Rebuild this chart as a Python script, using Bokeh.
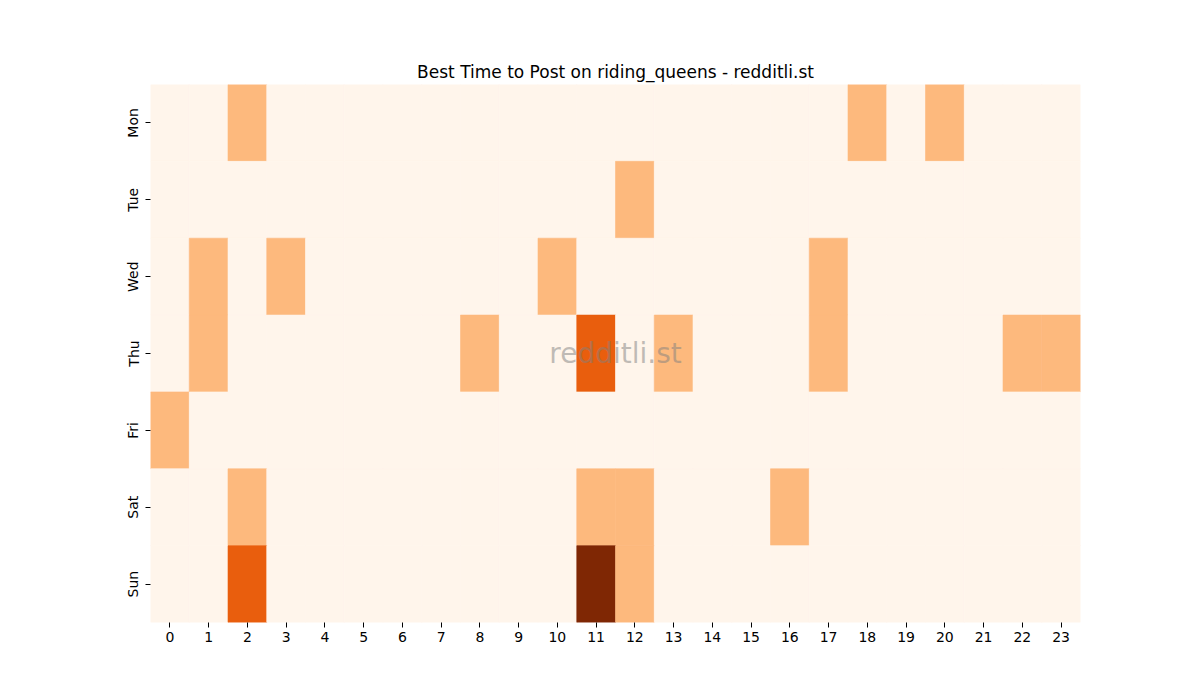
import numpy as np
from bokeh.plotting import figure
from bokeh.models import FixedTicker, ColumnDataSource
from bokeh.core.properties import value
from bokeh.embed import file_html
from bokeh.resources import INLINE

days = ["Mon", "Tue", "Wed", "Thu", "Fri", "Sat", "Sun"]
hours = list(range(24))

# posts score per (day, hour)
mon = [0, 0, 1, 0, 0, 0, 0, 0, 0, 0, 0, 0, 0, 0, 0, 0, 0, 0, 1, 0, 1, 0, 0, 0]
tue = [0, 0, 0, 0, 0, 0, 0, 0, 0, 0, 0, 0, 1, 0, 0, 0, 0, 0, 0, 0, 0, 0, 0, 0]
wed = [0, 1, 0, 1, 0, 0, 0, 0, 0, 0, 1, 0, 0, 0, 0, 0, 0, 1, 0, 0, 0, 0, 0, 0]
thu = [0, 1, 0, 0, 0, 0, 0, 0, 1, 0, 0, 2, 0, 1, 0, 0, 0, 1, 0, 0, 0, 0, 1, 1]
fri = [1, 0, 0, 0, 0, 0, 0, 0, 0, 0, 0, 0, 0, 0, 0, 0, 0, 0, 0, 0, 0, 0, 0, 0]
sat = [0, 0, 1, 0, 0, 0, 0, 0, 0, 0, 0, 1, 1, 0, 0, 0, 1, 0, 0, 0, 0, 0, 0, 0]
sun = [0, 0, 2, 0, 0, 0, 0, 0, 0, 0, 0, 3, 1, 0, 0, 0, 0, 0, 0, 0, 0, 0, 0, 0]

palette = ["#fff5eb", "#fdb97d", "#e95e0d", "#7f2704"]

grid = np.array([mon, tue, wed, thu, fri, sat, sun])
xs, ys, cs = [], [], []
for d in range(len(days)):
    for h in hours:
        xs.append(h + 0.5)
        ys.append(d + 0.5)
        cs.append(palette[grid[d, h]])
src = ColumnDataSource(data=dict(x=xs, y=ys, color=cs))

p = figure(width=1184, height=684, x_range=(0, 24), y_range=(7, 0),
           output_backend="svg", toolbar_location=None,
           title="Best Time to Post on riding_queens - redditli.st",
           min_border_left=150, min_border_right=104,
           min_border_top=84, min_border_bottom=62)
p.rect('x', 'y', 1, 1, source=src, fill_color='color', line_color='color',
       line_width=0.6)

p.text(x=[12], y=[3.5], text=["redditli.st"], text_align="center",
       text_baseline="middle", text_font=value("DejaVu Sans"),
       text_font_size="28px", text_color="gray", text_alpha=0.5)

p.title.align = "center"
p.title.text_font = "DejaVu Sans"
p.title.text_font_size = "17px"
p.title.text_font_style = "normal"
p.title.text_color = "black"
p.title.offset = 0
p.title.standoff = 5

p.xaxis.ticker = FixedTicker(ticks=[h + 0.5 for h in hours])
p.xaxis.major_label_overrides = {h + 0.5: str(h) for h in hours}
p.yaxis.ticker = FixedTicker(ticks=[d + 0.5 for d in range(len(days))])
p.yaxis.major_label_overrides = {d + 0.5: days[d] for d in range(len(days))}
p.yaxis.major_label_orientation = "vertical"

for ax in (p.xaxis, p.yaxis):
    ax.axis_line_color = None
    ax.minor_tick_line_color = None
    ax.major_tick_out = 5
    ax.major_tick_in = 0
    ax.major_tick_line_color = "black"
    ax.major_label_text_font = "DejaVu Sans"
    ax.major_label_text_font_size = "14px"
    ax.major_label_text_color = "black"
    ax.major_label_standoff = 4

p.xgrid.grid_line_color = None
p.ygrid.grid_line_color = None
p.outline_line_color = None

open("out.html", "w").write(file_html(p, INLINE))
